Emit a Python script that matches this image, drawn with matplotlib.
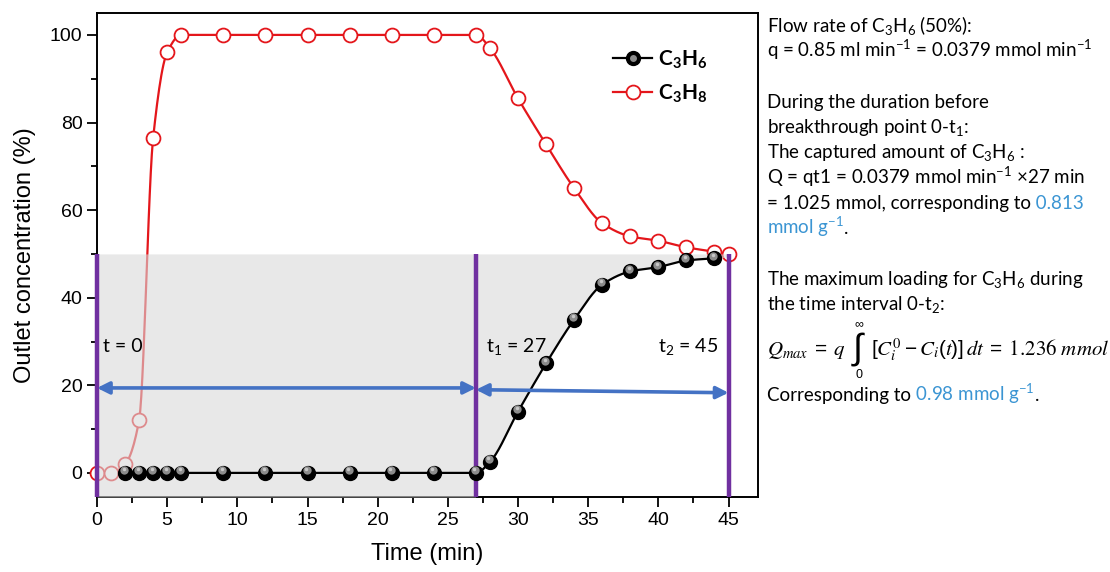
import numpy as np
import matplotlib
matplotlib.use('Agg')
import matplotlib.pyplot as plt
from matplotlib.lines import Line2D
from matplotlib.transforms import offset_copy
from matplotlib.legend_handler import HandlerTuple

# breakthrough data
time_c3h6 = [2, 3, 4, 5, 6, 9, 12, 15, 18, 21, 24, 27, 28, 30, 32, 34, 36, 38, 40, 42, 44]
conc_c3h6 = [0, 0, 0, 0, 0, 0, 0, 0, 0, 0, 0, 0, 2.5, 14, 25, 35, 43, 46, 47, 48.5, 49]

time_c3h8 = [0, 1, 2, 3, 4, 5, 6, 9, 12, 15, 18, 21, 24, 27, 28, 30, 32, 34, 36, 38, 40, 42, 44, 45]
conc_c3h8 = [0, 0, 2, 12, 76.5, 96, 100, 100, 100, 100, 100, 100, 100, 100, 97, 85.5, 75, 65, 57, 54, 53, 51.5, 50.5, 50]

t_marks = [0, 27, 45]
t_labels = ['t = 0', 't$_1$ = 27', 't$_2$ = 45']
feed_level = 50

RED = '#e4161b'
PURPLE = '#7030a0'
BLUE = '#4472c4'
LBLUE = '#3b95d3'

plt.rcParams['font.family'] = ['Liberation Sans', 'DejaVu Sans']
plt.rcParams['mathtext.default'] = 'regular'


def pchip(x, y, xs):
    # monotone cubic, just to draw the smooth connecting line
    x = np.asarray(x, float)
    y = np.asarray(y, float)
    h = np.diff(x)
    d = np.diff(y) / h
    m = np.zeros_like(y)
    m[0], m[-1] = d[0], d[-1]
    for k in range(1, len(x) - 1):
        if d[k - 1] * d[k] > 0:
            w1 = 2 * h[k] + h[k - 1]
            w2 = h[k] + 2 * h[k - 1]
            m[k] = (w1 + w2) / (w1 / d[k - 1] + w2 / d[k])
    idx = np.clip(np.searchsorted(x, xs) - 1, 0, len(x) - 2)
    s = (xs - x[idx]) / h[idx]
    h00 = 2 * s**3 - 3 * s**2 + 1
    h10 = s**3 - 2 * s**2 + s
    h01 = -2 * s**3 + 3 * s**2
    h11 = s**3 - s**2
    return h00 * y[idx] + h10 * h[idx] * m[idx] + h01 * y[idx + 1] + h11 * h[idx] * m[idx + 1]


fig = plt.figure(figsize=(11.1, 5.72), dpi=100)
W, H = 1110, 572
ax = fig.add_axes([97 / W, 1 - 497 / H, 661 / W, 484 / H])
y_lo, y_hi = -5.5, 105
ax.set_xlim(0, 47.1)
ax.set_ylim(y_lo, y_hi)

# C3H8 (under the grey overlay)
xs8 = np.linspace(time_c3h8[0], time_c3h8[-1], 600)
ax.plot(xs8, pchip(time_c3h8, conc_c3h8, xs8), color=RED, lw=1.6, zorder=2)
ax.plot(time_c3h8, conc_c3h8, ls='none', marker='o', ms=10, mfc='white', mec=RED, mew=1.3,
        zorder=3, clip_on=False)

# grey area: full band before t1, above the C3H6 curve after
xs = np.linspace(t_marks[0], t_marks[2], 900)
lower = np.where(xs <= t_marks[1], y_lo, pchip(time_c3h6, conc_c3h6, np.clip(xs, time_c3h6[0], None)))
ax.fill_between(xs, lower, feed_level, color='#d9d9d9', alpha=0.6, lw=0, zorder=4)

ax.vlines(t_marks, y_lo, feed_level, color=PURPLE, lw=3.2, zorder=4.5, clip_on=False)

# C3H6 spheres
xs6 = np.linspace(time_c3h6[0], time_c3h6[-1], 600)
ax.plot(xs6, pchip(time_c3h6, conc_c3h6, xs6), color='black', lw=1.6, zorder=5)
ax.plot(time_c3h6, conc_c3h6, ls='none', marker='o', ms=10, mfc='black', mec='black', zorder=6)
hl = offset_copy(ax.transData, fig=fig, x=-1, y=2.5, units='dots')
ax.plot(time_c3h6, conc_c3h6, ls='none', marker='o', ms=6, mfc='#8c8c8c', mec='none', zorder=7, transform=hl)
hl2 = offset_copy(ax.transData, fig=fig, x=-1.5, y=3.5, units='dots')
ax.plot(time_c3h6, conc_c3h6, ls='none', marker='o', ms=2.5, mfc='#c8c8c8', mec='none', zorder=7, transform=hl2)

# arrows between the time marks
arr = dict(arrowstyle='<|-|>', color=BLUE, lw=2.6, mutation_scale=18, shrinkA=0, shrinkB=0)
ax.annotate('', xy=(t_marks[0], 19.4), xytext=(t_marks[1], 19.4), arrowprops=arr, zorder=8)
ax.annotate('', xy=(t_marks[1], 19.0), xytext=(t_marks[2], 18.3), arrowprops=arr, zorder=8)

for tx, lab in zip([0.45, 27.75, 40.0], t_labels):
    ax.text(tx, 27.6, lab, fontsize=14, family='Lato', va='baseline', zorder=9)

ax.set_xticks(np.arange(0, 46, 5))
ax.set_xticks(np.arange(2.5, 46, 5), minor=True)
ax.set_yticks(np.arange(0, 101, 20))
ax.set_yticks(np.arange(10, 101, 20), minor=True)
ax.tick_params(which='major', direction='out', length=7, width=1.3, labelsize=14)
ax.tick_params(which='minor', direction='out', length=4, width=1.3)
for sp in ax.spines.values():
    sp.set_linewidth(1.4)

ax.set_xlabel('Time (min)', fontsize=17)
ax.xaxis.set_label_coords(0.5, -0.095)
ax.set_ylabel('Outlet concentration (%)', fontsize=17)
ax.yaxis.set_label_coords(-0.093, 0.5)

h6 = (Line2D([], [], color='black', lw=1.6, marker='o', ms=10, mfc='black', mec='black'),
      Line2D([], [], ls='none', marker='o', ms=5, mfc='#8c8c8c', mec='none'))
h8 = Line2D([], [], color=RED, lw=1.6, marker='o', ms=10, mfc='white', mec=RED, mew=1.3)
ax.legend([h6, h8], ['C$_3$H$_6$', 'C$_3$H$_8$'], handler_map={tuple: HandlerTuple(ndivide=1)},
          loc='upper left', bbox_to_anchor=(0.752, 0.965), frameon=False, handlelength=1.9,
          handletextpad=0.25, labelspacing=0.55, prop={'family': 'Lato', 'weight': 'bold', 'size': 15})

# calculation notes on the right
FS = 13.5
X0 = 767


def write_line(y_px, parts, **kw):
    prev = None
    for s, c in parts:
        if prev is None:
            prev = fig.text(X0 / W, 1 - y_px / H, s, color=c, fontsize=FS, family='Lato',
                            va='baseline', ha='left', **kw)
        else:
            prev = ax.annotate(s, xy=(1, 1 - y_px / H), xycoords=(prev, 'figure fraction'), color=c,
                               fontsize=FS, family='Lato', va='baseline', ha='left',
                               annotation_clip=False, **kw)
    return prev


write_line(32, [('Flow rate of C$_3$H$_6$ (50%):', 'black')])
write_line(57, [('q = 0.85 ml min$^{-1}$ = 0.0379 mmol min$^{-1}$', 'black')])
write_line(108, [('During the duration before', 'black')])
write_line(133, [('breakthrough point 0-t$_1$:', 'black')])
write_line(158, [('The captured amount of C$_3$H$_6$ :', 'black')])
write_line(184, [('Q = qt1 = 0.0379 mmol min$^{-1}$ \u00d727 min', 'black')])
write_line(209, [('= 1.025 mmol, corresponding to', 'black'), (' 0.813', LBLUE)])
write_line(234, [('mmol g$^{-1}$', LBLUE), ('.', 'black')])
write_line(285, [('The maximum loading for C$_3$H$_6$ during', 'black')])
write_line(310, [('the time interval 0-t$_2$:', 'black')])
write_line(401, [('Corresponding to', 'black'), (' 0.98 mmol g$^{-1}$', LBLUE), ('.', 'black')])

# Q_max formula
yf = 1 - 355 / H
q1 = fig.text(X0 / W, yf, r'$\mathit{Q}_{\mathit{max}}\;=\;\mathit{q}$', fontsize=15,
              math_fontfamily='stix', va='baseline')
integ = ax.annotate(r'$\int$', xy=(1, 1 - 349 / H), xycoords=(q1, 'figure fraction'),
                    xytext=(4, 0), textcoords='offset points', fontsize=26, math_fontfamily='stix',
                    va='center', ha='left', annotation_clip=False)
ax.annotate(r'$\infty$', xy=(0.5, 1), xycoords=integ, fontsize=9, math_fontfamily='stix',
            va='bottom', ha='center', annotation_clip=False)
ax.annotate(r'$0$', xy=(0.5, 0), xycoords=integ, fontsize=9, math_fontfamily='stix',
            va='top', ha='center', annotation_clip=False)
ax.annotate(r'$[\mathit{C_i^0} - \mathit{C_i}(\mathit{t})]\,\mathit{dt}\;=\;\mathrm{1.236}\ \mathit{mmol}$',
            xy=(1, yf), xycoords=(integ, 'figure fraction'), xytext=(3, 0), textcoords='offset points',
            fontsize=15, math_fontfamily='stix', va='baseline', ha='left', annotation_clip=False)

fig.savefig('out.png', dpi=100)
